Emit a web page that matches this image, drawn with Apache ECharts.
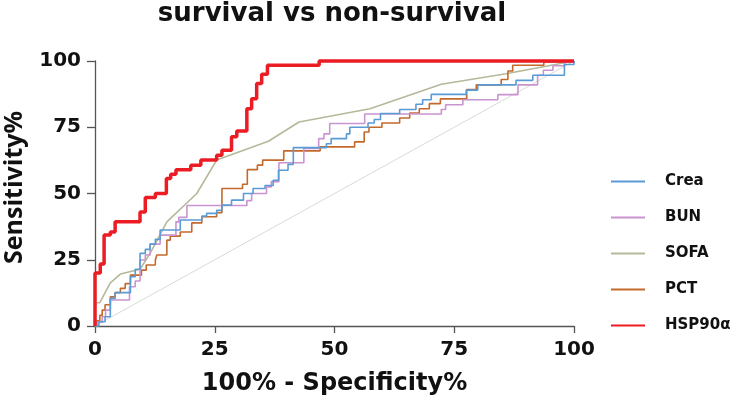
<!DOCTYPE html>
<html>
<head>
<meta charset="utf-8">
<script src="https://cdn.jsdelivr.net/npm/echarts@6/dist/echarts.min.js"></script>
<style>
html,body{margin:0;padding:0;background:#fff;}
#chart{width:738px;height:400px;}
</style>
</head>
<body>
<div id="chart"></div>
<script>
var titleText = 'survival vs non-survival';
var xAxisTitle = '100% - Specificity%';
var yAxisTitle = 'Sensitivity%';
var axisTicks = [0, 25, 50, 75, 100];
var seriesNames = ['Crea', 'BUN', 'SOFA', 'PCT', 'HSP90\u03b1'];

// points where each step curve rises: [100% - Specificity%, Sensitivity%]
var crea = [[0,0],[0.8,1.6],[2.1,3.5],[3.2,10.4],[4.2,12.6],[7.4,18.6],[8.4,21.4],[9.4,27.4],[10.5,28.9],[11.5,30.9],[12.6,32.7],[13.6,36.2],[17.8,40],[22.3,41.5],[23.3,42.5],[25.4,43.7],[26.5,45.6],[28.5,47.5],[31,50],[33,51.9],[35.5,53],[37.2,55],[38.3,58.8],[40.3,61],[41.4,67.3],[48.3,68.8],[49.3,70.7],[52.5,72.5],[53.2,75],[57,76.6],[58.3,77.9],[59.6,80.2],[63.6,81.7],[67,83.7],[68.4,85.4],[70.2,87.4],[77.5,89],[79.9,91],[87.9,92.7],[91.4,94.6],[98,98.7],[100,100]];
var bun = [[0,0],[0.5,1.5],[1.5,3.5],[2.2,6],[3.2,9.8],[7.2,14.8],[8.4,17],[9.4,24.9],[10.5,26.8],[11.5,30.9],[13.6,34.3],[16.9,39.3],[17.5,41],[19.2,45.5],[31.7,47.3],[32.7,50],[35.8,52.5],[36.8,54.5],[38.4,61.6],[43.6,67],[46.7,70.7],[47.8,72.5],[49,76.4],[56.3,80],[72.3,81.7],[73.2,83.5],[76.8,85.4],[84.1,87.3],[88.3,91],[92.4,94.6],[93.6,96.5],[95.6,98.2],[98,99.6],[100,100]];
var sofa = [[0,0],[0,8.8],[1,8.8],[3.2,16.3],[5.3,19.6],[9.4,21.4],[11.5,27.4],[15,39.3],[21.25,50],[25.4,62.6],[36.2,69.7],[42.6,77],[57.4,82],[72.3,91.2],[85.8,95.2],[100,100]];
var pct = [[0,0],[0.4,2],[1,4],[1.5,6],[2.1,8],[3.2,11],[4.2,12.6],[5.3,14.2],[6.3,16],[7.4,19.2],[9.7,21.1],[10.7,23],[12.6,24.9],[12.9,26.8],[15,32.4],[15.7,33.9],[17.8,35.5],[20.2,38.9],[22.3,41.2],[25.4,42.8],[26.5,51.9],[30.8,53.5],[31.8,59],[33.9,60.7],[35,62.6],[39.4,66.1],[47,67.6],[54.2,69.5],[56.2,73.2],[57.2,75],[59.9,76.6],[63.6,78.5],[65.7,80.4],[67.7,82],[69.8,83.9],[72.1,85.7],[77.6,89.2],[79.6,91],[84.8,93],[86.2,96.2],[87.2,98.4],[93.7,99.6],[100,100]];
var hsp = [[0,0],[0,20],[1.1,23.4],[1.9,34.3],[3.2,35.5],[4.2,39.3],[9.4,43],[10.5,48.5],[12.6,50],[14.9,55.7],[15.8,57.3],[16.9,59],[20,60.7],[22.1,62.6],[25.4,64.4],[26.5,66.3],[28.5,71.4],[29.6,73.6],[31.7,82],[32.7,85.8],[33.75,91.5],[34.8,95],[36,98.4],[46.8,100],[100,100]];
var diagonal = [[0,0],[100,100]];

var colors = {
  'Crea': '#5b9bd5',
  'BUN': '#c994d0',
  'SOFA': '#b5b99a',
  'PCT': '#c4692c',
  'HSP90\u03b1': '#ec1c24'
};

var chart = echarts.init(document.getElementById('chart'), null, {renderer: 'canvas'});

function stepSeries(name, data, width, z) {
  return {
    name: name,
    type: 'line',
    step: 'end',
    data: data,
    symbol: 'none',
    clip: false,
    z: z,
    lineStyle: {color: colors[name], width: width},
    itemStyle: {color: colors[name]},
    emphasis: {disabled: true}
  };
}

var axisFont = 'DejaVu Sans';

var option = {
  animation: false,
  backgroundColor: '#ffffff',
  title: {
    text: titleText,
    left: 332,
    textAlign: 'center',
    top: 1,
    padding: 0,
    textStyle: {fontFamily: axisFont, fontWeight: 'bold', fontSize: 26, color: '#111'}
  },
  legend: {
    data: seriesNames,
    orient: 'vertical',
    left: 611,
    top: 171.5,
    padding: 0,
    icon: 'rect',
    itemWidth: 34,
    itemHeight: 2,
    itemGap: 16,
    textStyle: {fontFamily: axisFont, fontWeight: 'bold', fontSize: 15, color: '#111', lineHeight: 20, padding: [0, 0, 0, 15]}
  },
  grid: {left: 95, right: 164, top: 61, bottom: 74, containLabel: false, outerBoundsMode: 'none'},
  xAxis: {
    type: 'value',
    min: axisTicks[0],
    max: axisTicks[axisTicks.length - 1],
    interval: axisTicks[1] - axisTicks[0],
    name: xAxisTitle,
    nameLocation: 'middle',
    nameGap: 46,
    nameTextStyle: {fontFamily: axisFont, fontWeight: 'bold', fontSize: 24, color: '#111'},
    axisLine: {show: true, lineStyle: {color: '#555', width: 1.3}},
    axisTick: {show: true, length: 7, lineStyle: {color: '#555', width: 1.3}},
    axisLabel: {fontFamily: axisFont, fontWeight: 'bold', fontSize: 20, color: '#111', margin: 14},
    splitLine: {show: false}
  },
  yAxis: {
    type: 'value',
    min: axisTicks[0],
    max: axisTicks[axisTicks.length - 1],
    interval: axisTicks[1] - axisTicks[0],
    name: yAxisTitle,
    nameLocation: 'middle',
    nameRotate: 90,
    nameGap: 68,
    nameTextStyle: {fontFamily: 'Open Sans', fontWeight: 'bold', fontSize: 25, color: '#111', padding: [0, 0, 0, 12]},
    axisLine: {show: true, lineStyle: {color: '#555', width: 1.3}},
    axisTick: {show: true, length: 8, lineStyle: {color: '#555', width: 1.3}},
    axisLabel: {fontFamily: axisFont, fontWeight: 'bold', fontSize: 20, color: '#111', margin: 14},
    splitLine: {show: false}
  },
  series: [
    {
      name: 'diagonal',
      type: 'line',
      data: diagonal,
      symbol: 'none',
      silent: true,
      z: 1,
      lineStyle: {color: '#d9d9d9', width: 1},
      emphasis: {disabled: true}
    },
    {
      name: 'SOFA',
      type: 'line',
      data: sofa,
      symbol: 'none',
      clip: false,
      z: 2,
      lineStyle: {color: colors['SOFA'], width: 1.6},
      itemStyle: {color: colors['SOFA']},
      emphasis: {disabled: true}
    },
    stepSeries('PCT', pct, 1.6, 3),
    stepSeries('BUN', bun, 1.6, 4),
    stepSeries('Crea', crea, 1.6, 5),
    stepSeries('HSP90\u03b1', hsp, 3.5, 6)
  ]
};
chart.setOption(option);
</script>
</body>
</html>
